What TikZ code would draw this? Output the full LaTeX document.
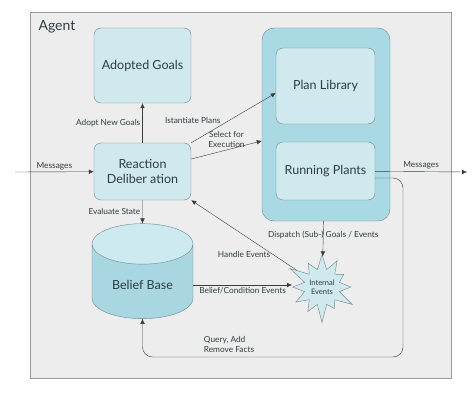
\documentclass[tikz,border=0pt]{standalone}
\usepackage{fontspec}
\setmainfont{Lato}
\usetikzlibrary{arrows.meta,shapes.geometric,shapes.symbols}
\definecolor{agentbg}{HTML}{EDEDED}
\definecolor{framegray}{HTML}{9A9A9A}
\definecolor{boxfill}{HTML}{CFE9EF}
\definecolor{boxline}{HTML}{6A878D}
\definecolor{holdfill}{HTML}{A9DAE4}
\definecolor{cylbody}{HTML}{A8D7E1}
\definecolor{cyltop}{HTML}{CDEAF0}
\definecolor{linegray}{HTML}{3C3C3C}
\definecolor{textgray}{HTML}{2E3D42}
\begin{document}
\begin{tikzpicture}[x=1pt, y=-1pt, >={Latex[length=5pt,width=4.5pt]},
  box/.style={draw=boxline, fill=boxfill, rounded corners=7pt, minimum width=97pt,
    align=center, font=\fontsize{12.5}{15}\selectfont, text=textgray, inner sep=0pt},
  lbl/.style={font=\fontsize{8.3}{10}\selectfont, text=textgray, inner sep=2pt, align=center},
  conn/.style={draw=linegray, ->}]
\useasboundingbox (0,0) rectangle (474,401);

\node[draw=framegray, fill=agentbg, minimum width=421pt, minimum height=366pt, inner sep=0pt] (agent) at (240.5,195) {};
\node[anchor=west, font=\fontsize{14}{16}\selectfont, text=textgray] (agentlbl) at (35,27) {Agent};

\node[box, minimum height=75pt] (goals) at (142.5,65.5) {Adopted Goals};
\node[box, minimum height=57pt] (react) at (142.5,171.5) {Reaction\\Deliber ation};

\node[draw=boxline, fill=holdfill, rounded corners=12pt, minimum width=128pt, minimum height=193pt] (plans) at (326,124.5) {};
\node[box, minimum width=99pt, minimum height=76pt] (library) at (325.5,86) {Plan Library};
\node[box, minimum width=99pt, minimum height=58pt] (running) at (325.5,171) {Running Plants};

\node[cylinder, shape border rotate=90, aspect=0.6, draw=boxline, cylinder uses custom fill,
  cylinder body fill=cylbody, cylinder end fill=cyltop, minimum width=101pt, minimum height=95pt,
  font=\fontsize{12.5}{15}\selectfont, text=textgray] (belief) at (142.5,285) {Belief Base};

\node[starburst, starburst points=12, starburst point height=20pt, draw=boxline, fill=boxfill,
  minimum width=76pt, minimum height=76pt, inner sep=0pt, align=center,
  font=\fontsize{7.5}{9}\selectfont, text=textgray] (events) at (322,287) {Internal\\Events};

\coordinate (msgin) at (15,172);
\coordinate (msgout) at (467,172);
\coordinate (qcorner) at (403,357);

\draw[conn] (msgin) -- (react) node[lbl, midway, above] {Messages};
\draw[conn] (react) -- (goals) node[lbl, midway, left] {Adopt New Goals};
\draw[conn] (react.north east) -- ([yshift=-7pt]library.west) node[lbl, pos=0.36, above left, inner sep=1pt] {Istantiate Plans};
\draw[conn] (react) -- (plans) node[lbl, midway, above] {Select for\\Execution};
\draw[conn] (running) -- (msgout) node[lbl, midway, above] {Messages};
\draw[conn] (react) -- (belief) node[lbl, midway, left] {Evaluate State};
\draw[conn] (plans) -- (events) node[lbl, pos=0.4] {Dispatch (Sub-) Goals / Events};
\draw[conn] (belief.east) -- (belief.east -| events.west) node[lbl, midway, below] {Belief/Condition Events};
\draw[conn] (events) -- (react.south east) node[lbl, pos=0.5, below=14pt] {Handle Events};
\draw[conn, rounded corners=10pt] ([yshift=-7pt]running.east) -| (qcorner) -| (belief.south);
\node[lbl, anchor=south, align=left] (querylbl) at (229,355) {Query, Add\\Remove Facts};

\end{tikzpicture}
\end{document}
